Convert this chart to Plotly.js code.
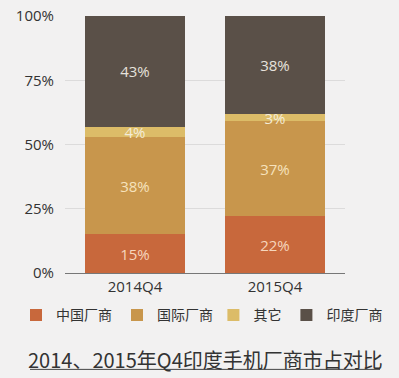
<!DOCTYPE html>
<html>
<head>
<meta charset="utf-8">
<script src="https://cdn.plot.ly/plotly-3.0.1.min.js"></script>
<style>
html,body{margin:0;padding:0;background:#f2f1f1;}
#chart{width:399px;height:378px;}
</style>
</head>
<body>
<div id="chart"></div>
<script>
const categories = ["2014Q4", "2015Q4"];
const seriesNames = ["中国厂商", "国际厂商", "其它", "印度厂商"];
const chinaVals = [15, 22];
const intlVals = [38, 37];
const otherVals = [4, 3];
const indiaVals = [43, 38];
const yTickVals = [0, 25, 50, 75, 100];
const yTickText = ["0%", "25%", "50%", "75%", "100%"];
const chartTitle = "2014、2015年Q4印度手机厂商市占对比";

const colors = ["#c8683c", "#c8964c", "#dcbc68", "#5a5048"];
const textColors = ["#f6d6bc", "#f6e2bc", "#f4ecd8", "#e6e2dc"];
const legendGroups = ["legend", "legend", "legend2", "legend2"];
const allVals = [chinaVals, intlVals, otherVals, indiaVals];

const fontCJK = "'Noto Sans CJK SC', 'Noto Sans', sans-serif";
const fontNum = "'Open Sans', 'Noto Sans', sans-serif";

const traces = allVals.map((vals, i) => ({
  type: "bar",
  name: seriesNames[i],
  legend: legendGroups[i],
  x: categories,
  y: vals,
  marker: {color: colors[i], line: {width: 0}},
  text: vals.map(v => v + "%"),
  textposition: "inside",
  insidetextanchor: "middle",
  constraintext: "none",
  textangle: 0,
  textfont: {family: fontNum, size: 15, color: textColors[i]},
  hoverinfo: "skip",
  width: 0.71
}));

const legendCommon = {
  orientation: "h",
  xanchor: "left",
  y: -0.165,
  yanchor: "middle",
  traceorder: "normal",
  font: {family: fontCJK, size: 14, color: "#333"},
  itemwidth: 30,
  bgcolor: "rgba(0,0,0,0)"
};

const layout = {
  width: 399,
  height: 378,
  margin: {l: 65, r: 54, t: 16, b: 105, autoexpand: false},
  paper_bgcolor: "#f2f1f1",
  plot_bgcolor: "#f2f1f1",
  barmode: "stack",
  showlegend: true,
  legend: Object.assign({}, legendCommon, {x: -0.175}),
  legend2: Object.assign({}, legendCommon, {x: 0.53}),
  xaxis: {
    type: "category",
    range: [-0.5, 1.5],
    showgrid: false,
    showline: true,
    linecolor: "#777",
    linewidth: 1,
    ticks: "",
    tickfont: {family: fontNum, size: 15, color: "#333"},
    fixedrange: true
  },
  yaxis: {
    range: [0, 100],
    tickvals: yTickVals,
    ticktext: yTickText,
    showgrid: true,
    gridcolor: "#dcdbdb",
    gridwidth: 1,
    zeroline: false,
    showline: false,
    ticks: "",
    ticklabelstandoff: 10,
    tickfont: {family: fontNum, size: 15, color: "#333"},
    fixedrange: true
  },
  annotations: [{
    text: chartTitle,
    xref: "paper", yref: "paper",
    x: 0.5, y: -0.335,
    xanchor: "center", yanchor: "middle",
    showarrow: false,
    font: {family: fontCJK, size: 20, color: "#333"}
  }],
  shapes: [{
    type: "line",
    xref: "paper", yref: "paper",
    x0: -0.125, x1: 1.125,
    y0: -0.375, y1: -0.375,
    line: {color: "#444", width: 1}
  }]
};

Plotly.newPlot("chart", traces, layout, {displayModeBar: false, staticPlot: true});
</script>
</body>
</html>
